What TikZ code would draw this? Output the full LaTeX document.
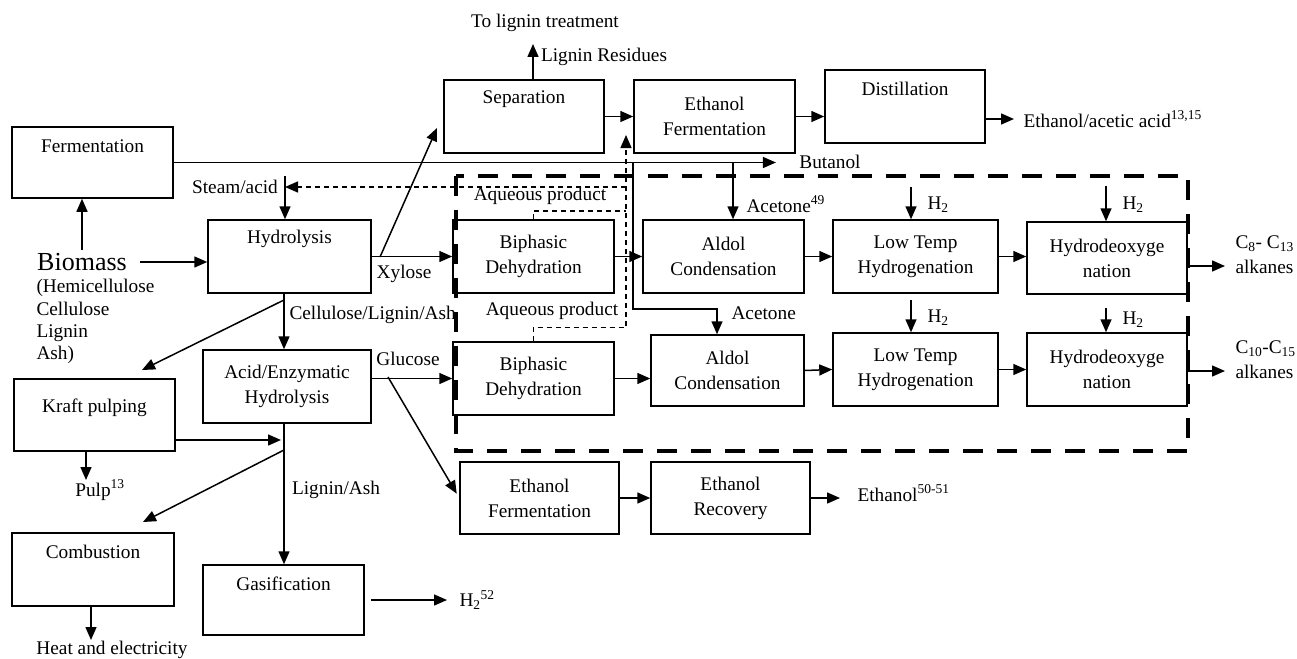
\documentclass[tikz,border=0pt]{standalone}
\usepackage{fontspec}
\setmainfont{Liberation Serif}
\usetikzlibrary{arrows.meta}
\def\procbox{\node[draw,line width=1.5pt,align=center]}
\tikzset{
  arr/.style={-{Triangle[length=13pt,width=11pt]},line width=1.5pt},
  aq/.style={dash pattern=on 5pt off 4pt,line width=1.5pt},
  bigdash/.style={dash pattern=on 20pt off 14pt,line width=4.5pt},
  toptext/.style={label={[anchor=center,yshift=-20pt]north:#1}}
}

\begin{document}
\begin{tikzpicture}[x=1pt,y=-1pt,font=\fontsize{19.3}{25}\selectfont]
\useasboundingbox (0,0) rectangle (1297,658);
\procbox (ferm) at (92.5,162.5) [minimum width=161pt,minimum height=71pt,toptext=Fermentation] {};
\procbox (hydro) at (289.5,256.5) [minimum width=163pt,minimum height=73pt,toptext=Hydrolysis] {};
\procbox (acid) at (287,386.5) [minimum width=168pt,minimum height=73pt] {Acid/Enzymatic\\Hydrolysis};
\procbox (kraft) at (94.5,415) [minimum width=161pt,minimum height=72pt,label={[anchor=center,yshift=-30pt]north:Kraft pulping}] {};
\procbox (comb) at (93,569.5) [minimum width=162pt,minimum height=73pt,toptext=Combustion] {};
\procbox (gasif) at (283.5,600) [minimum width=161pt,minimum height=70pt,toptext=Gasification] {};
\procbox (sep) at (524,116.5) [minimum width=160pt,minimum height=73pt,toptext=Separation] {};
\procbox (ethf1) at (714.5,116.5) [minimum width=161pt,minimum height=73pt] {Ethanol\\Fermentation};
\procbox (dist) at (905,106.5) [minimum width=160pt,minimum height=73pt,toptext=Distillation] {};
\procbox (biph1) at (533.5,256.5) [minimum width=161pt,minimum height=73pt] {Biphasic\\Dehydration};
\procbox (aldol1) at (723.5,256.5) [minimum width=161pt,minimum height=73pt] {Aldol\\Condensation};
\procbox (lowt1) at (915.5,256.5) [minimum width=165pt,minimum height=73pt] {Low Temp\\Hydrogenation};
\procbox (hdo1) at (1107,258) [minimum width=160pt,minimum height=72pt] {Hydrodeoxyge\\nation};
\procbox (biph2) at (533.5,378.5) [minimum width=161pt,minimum height=73pt] {Biphasic\\Dehydration};
\procbox (aldol2) at (727.5,370.5) [minimum width=153pt,minimum height=71pt] {Aldol\\Condensation};
\procbox (lowt2) at (915.5,369.5) [minimum width=165pt,minimum height=73pt] {Low Temp\\Hydrogenation};
\procbox (hdo2) at (1107,369.5) [minimum width=160pt,minimum height=73pt] {Hydrodeoxyge\\nation};
\procbox (ethf2) at (539.5,498) [minimum width=159pt,minimum height=72pt] {Ethanol\\Fermentation};
\procbox (ethr) at (730.5,498) [minimum width=159pt,minimum height=72pt] {Ethanol\\Recovery};

\node (bio) at (82,262) [font=\fontsize{26}{30}\selectfont] {Biomass};
\node (comp) [anchor=north west,align=left,font=\fontsize{19.3}{22.3}\selectfont] at (33,276) {(Hemicellulose\\Cellulose\\Lignin\\Ash)};
\node (steam) at (235,187) {Steam/acid};
\node (tolig) at (545,23) {To lignin treatment};
\node (ligres) at (604,57) {Lignin Residues};
\node (but) at (830,162) {Butanol};
\node (eaa) [anchor=west] at (1020,119) {Ethanol/acetic acid\textsuperscript{13,15}};
\node (xyl) at (404,274) {Xylose};
\node (aqu1) at (540,196) {Aqueous product};
\node (aqu2) at (552,311) {Aqueous product};
\node (ace1) [anchor=west] at (743,204) {Acetone\textsuperscript{49}};
\node (ace2) [anchor=west] at (728,313) {Acetone};
\node (cla) [anchor=west] at (286,315) {Cellulose/Lignin/Ash};
\node (glu) at (408,359) {Glucose};
\node (h2a) [anchor=west] at (924,205) {H\textsubscript{2}};
\node (h2b) [anchor=west] at (1119,205) {H\textsubscript{2}};
\node (h2c) [anchor=west] at (924,318) {H\textsubscript{2}};
\node (h2d) [anchor=west] at (1119,320) {H\textsubscript{2}};
\node (c8) [anchor=west,align=left] at (1232,255) {C\textsubscript{8}- C\textsubscript{13}\\alkanes};
\node (c10) [anchor=west,align=left] at (1232,360) {C\textsubscript{10}-C\textsubscript{15}\\alkanes};
\node (eth) [anchor=west] at (854,493) {Ethanol\textsuperscript{50-51}};
\node (pulp) at (100,490) {Pulp\textsuperscript{13}};
\node (la) at (336,490) {Lignin/Ash};
\node (heat) at (112,650) {Heat and electricity};
\node (h2g) [anchor=west] at (456,600) {H\textsubscript{2}\textsuperscript{52}};

\coordinate (sa) at (285,176);
\coordinate (dtop) at (626,135);
\coordinate (dsa) at (626,187);
\coordinate (dv1) at (626,211);
\coordinate (xj) at (380,257);
\coordinate (septip) at (437,128);
\coordinate (ligtop) at (533,44);
\coordinate (j1) at (633,162.5);
\coordinate (j2) at (733,162.5);
\coordinate (acj) at (717,309);
\coordinate (h1) at (911,187);
\coordinate (h2) at (1106,186);
\coordinate (h3) at (911,300);
\coordinate (h4) at (1106,308);
\coordinate (o1) at (1225,266);
\coordinate (o2) at (1225,371);
\coordinate (gj) at (388,377);
\coordinate (cj) at (284,300);
\coordinate (krtip) at (142,370);
\coordinate (kj) at (281,440);
\coordinate (lj) at (284,450);
\coordinate (cotip) at (143,522);
\coordinate (pj) at (86,480);
\coordinate (hj) at (91,640);

\draw[bigdash] (456,176) rectangle (1188,451);
\draw[arr] (bio.north) -- (bio.north |- ferm.south);
\draw[arr,shorten <=10pt] (bio.east) -- (bio.east -| hydro.west);
\draw[arr,shorten >=20pt] (ferm.east) -- (ferm.east -| but.west);
\draw[arr] (sa) -- (sa |- hydro.north);
\draw[aq,arr] (dsa) -- (dsa -| sa);
\draw[aq,arr] (biph2.north) -- ++(0,-14) -| (dtop);
\draw[aq] (biph1.north) |- (dv1);
\draw[arr] (hydro.east) -- (biph1.west);
\draw[arr] (xj) -- (septip);
\draw[arr] (ligtop |- sep.north) -- (ligtop);
\draw[arr] (sep.east) -- (ethf1.west);
\draw[arr] (ethf1.east) -- (ethf1.east -| dist.west);
\draw[arr,shorten >=6pt] (eaa.west -| dist.east) -- (eaa.west);
\draw[arr] (j2) -- (j2 |- aldol1.north);
\draw[arr] (j1) |- (acj) -- (acj |- aldol2.north);
\draw[arr] (biph1.east) -- (aldol1.west);
\draw[arr] (aldol1.east) -- (lowt1.west);
\draw[arr] (lowt1.east) -- (lowt1.east -| hdo1.west);
\draw[arr] (o1 -| hdo1.east) -- (o1);
\draw[arr] (h1) -- (h1 |- lowt1.north);
\draw[arr] (h2) -- (h2 |- hdo1.north);
\draw[arr] (h3) -- (h3 |- lowt2.north);
\draw[arr] (h4) -- (h4 |- hdo2.north);
\draw[arr] (acid.east |- biph2.west) -- (biph2.west);
\draw[arr] (biph2.east) -- (biph2.east -| aldol2.west);
\draw[arr] (aldol2.east) -- (lowt2.west);
\draw[arr] (lowt2.east) -- (hdo2.west);
\draw[arr] (o2 -| hdo2.east) -- (o2);
\draw[arr,shorten >=5pt] (gj) -- (ethf2.west);
\draw[arr] (ethf2.east) -- (ethr.west);
\draw[arr,shorten >=14pt] (ethr.east) -- (ethr.east -| eth.west);
\draw[arr] (cj |- hydro.south) -- (cj |- acid.north);
\draw[arr] (cj) -- (krtip);
\draw[arr] (kj -| kraft.east) -- (kj);
\draw[arr] (lj |- acid.south) -- (lj |- gasif.north);
\draw[arr] (lj) -- (cotip);
\draw[arr] (pj |- kraft.south) -- (pj);
\draw[arr] (hj |- comb.south) -- (hj);
\draw[arr,shorten <=6pt,shorten >=9pt] (gasif.east) -- (gasif.east -| h2g.west);
\end{tikzpicture}
\end{document}
